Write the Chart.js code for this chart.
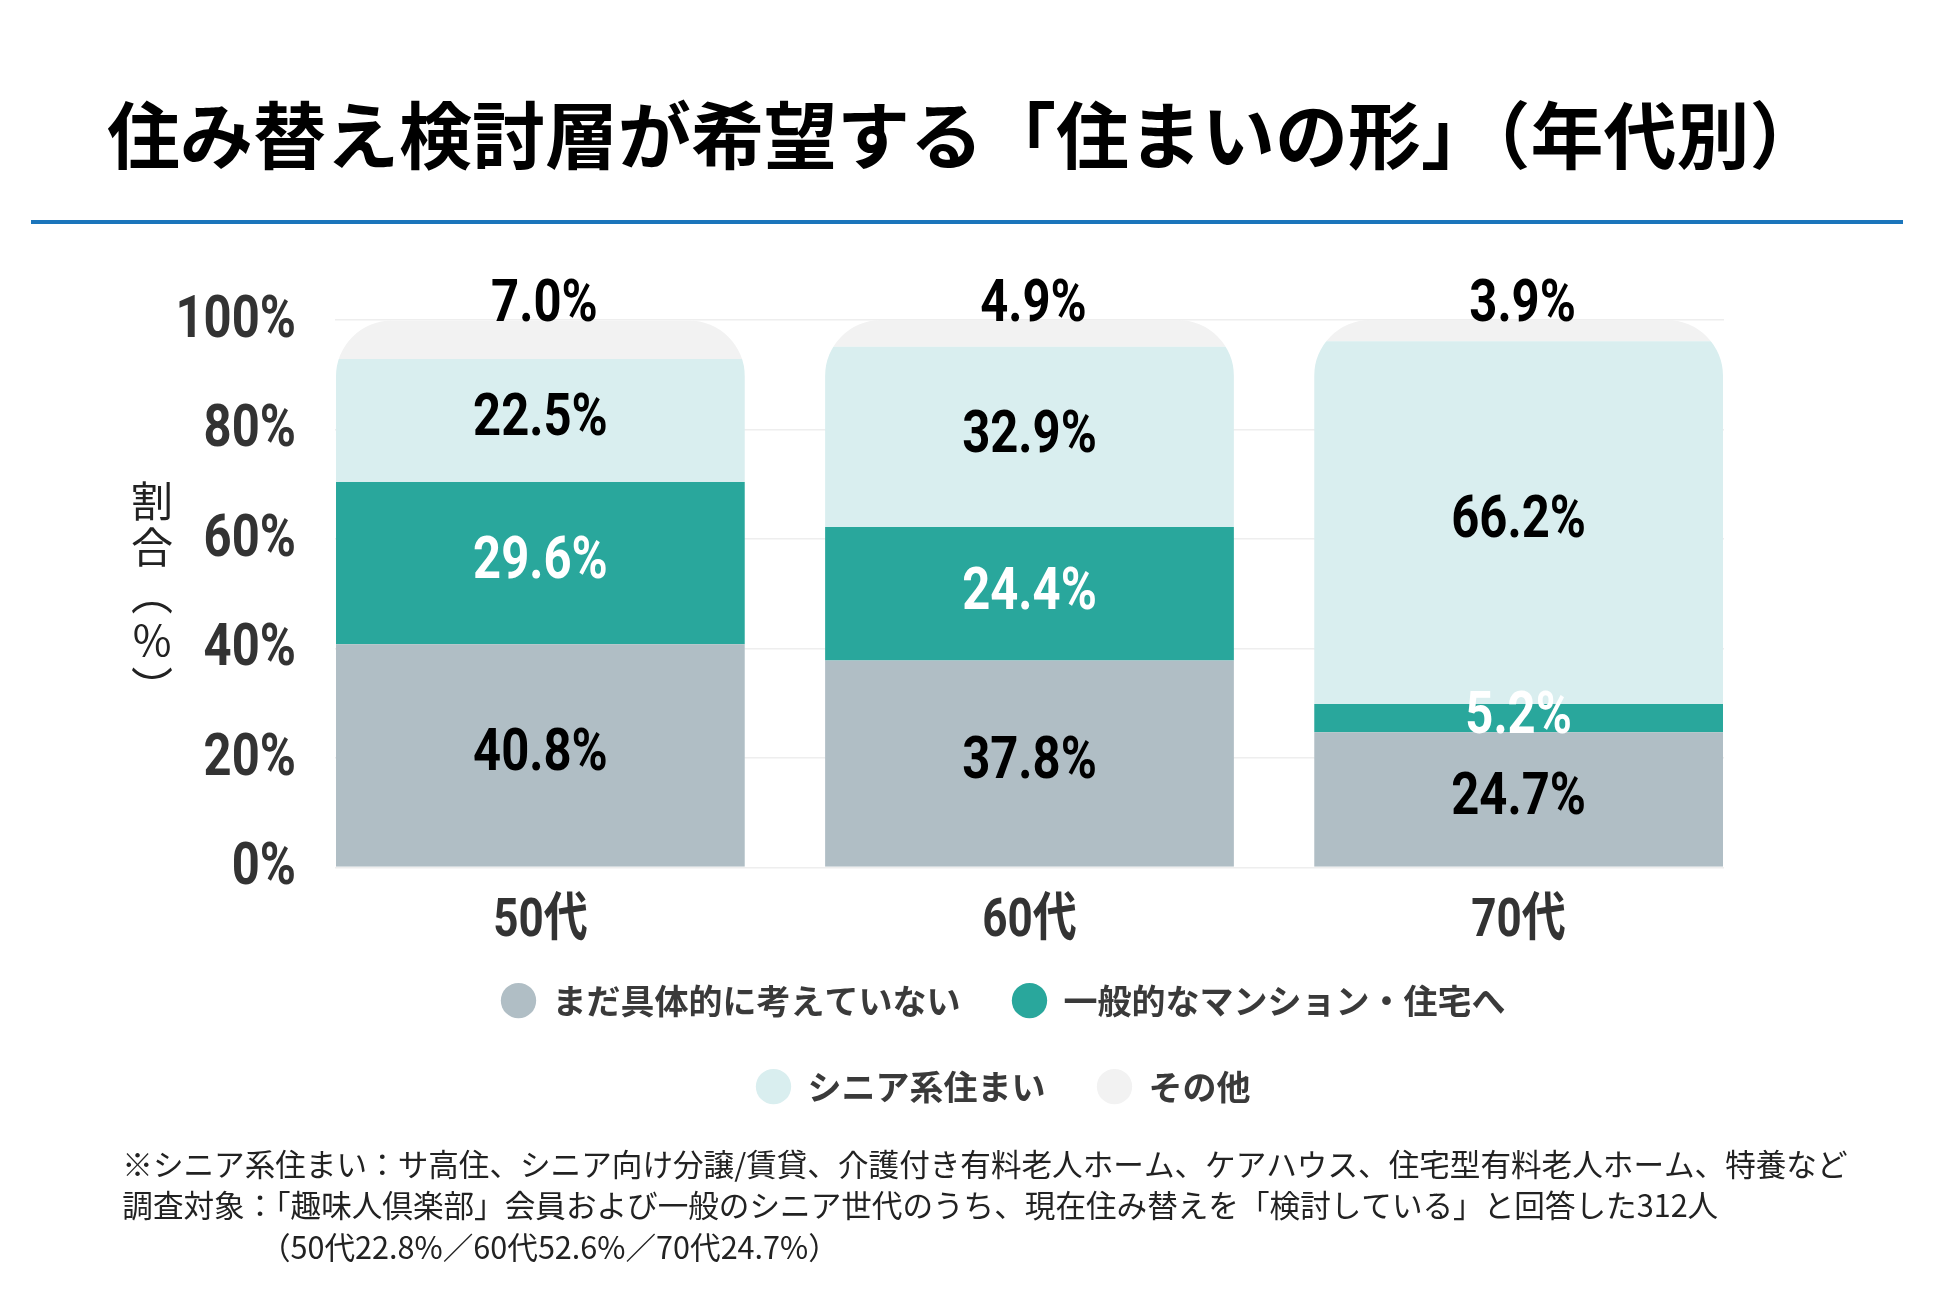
<!DOCTYPE html>
<html lang="ja">
<head>
<meta charset="utf-8">
<title>住み替え検討層が希望する「住まいの形」（年代別）</title>
<script src="https://cdn.jsdelivr.net/npm/chart.js@4/dist/chart.umd.min.js"></script>
<style>
  html, body { margin: 0; padding: 0; background: #fff; }
  canvas { display: block; }
</style>
</head>
<body>
<canvas id="chart" width="1950" height="1300"></canvas>
<script>
// data
const categories = ['50代', '60代', '70代'];
const seriesNames = ['まだ具体的に考えていない', '一般的なマンション・住宅へ', 'シニア系住まい', 'その他'];
const notYet = [40.8, 37.8, 24.7];
const general = [29.6, 24.4, 5.2];
const senior = [22.5, 32.9, 66.2];
const other = [7.0, 4.9, 3.9];
const yTickStep = 20;

const titleText = '住み替え検討層が希望する「住まいの形」（年代別）';
const axisTitleChars = ['割', '合', '︵', '%', '︶'];
const noteLines = [
  '\u2002※シニア系住まい：サ高住、シニア向け分譲/賃貸、介護付き有料老人ホーム、ケアハウス、住宅型有料老人ホーム、特養など',
  '\u2002調査対象：「趣味人倶楽部」会員および一般のシニア世代のうち、現在住み替えを「検討している」と回答した312人',
  '\u2002　　　　　（50代22.8%／60代52.6%／70代24.7%）',
];

const colors = ['#b0bec5', '#29a79c', '#d9eeef', '#f2f2f2'];
const jp = "'Noto Sans CJK JP', sans-serif";
const condensedFont = size => `bold ${size}px Roboto, 'Noto Sans CJK JP', sans-serif`;
const squeeze = 0.83;

const toPoints = arr => arr.map((v, i) => ({ x: i, y: v }));

// draw text narrowed horizontally (no condensed face is installed)
const drawCondensed = (ctx, text, x, y, align) => {
  ctx.save();
  ctx.translate(x, y);
  ctx.scale(squeeze, 1);
  ctx.textAlign = align;
  ctx.textBaseline = 'middle';
  ctx.fillText(text, 0, 0);
  ctx.restore();
};

// ----------------------------------------------
// plugins
// ----------------------------------------------
// clip the stacked bars to one rounded-top shape per category
const roundedStack = {
  id: 'roundedStack',
  beforeDatasetsDraw(chart) {
    const { ctx } = chart;
    const metas = chart.data.datasets.map((d, i) => chart.getDatasetMeta(i));
    ctx.save();
    ctx.beginPath();
    metas[0].data.forEach((bar, i) => {
      let top = Infinity;
      let bottom = -Infinity;
      metas.forEach(m => {
        const el = m.data[i];
        top = Math.min(top, el.y, el.base);
        bottom = Math.max(bottom, el.y, el.base);
      });
      const r = 56;
      ctx.roundRect(bar.x - bar.width / 2, top, bar.width, bottom - top, [r, r, 0, 0]);
    });
    ctx.clip();
  },
  afterDatasetsDraw(chart) {
    const { ctx } = chart;
    ctx.restore();

    // value labels
    ctx.save();
    ctx.font = condensedFont(59);
    const last = chart.data.datasets.length - 1;
    chart.data.datasets.forEach((ds, d) => {
      const meta = chart.getDatasetMeta(d);
      meta.data.forEach((el, i) => {
        const text = ds.data[i].y.toFixed(1) + '%';
        let x = el.x;
        let y = (el.y + el.base) / 2;
        if (d === last) {
          x = el.x + 4;
          y = Math.min(el.y, el.base) - 14;
        }
        ctx.fillStyle = d === 1 ? '#ffffff' : '#000000';
        drawCondensed(ctx, text, x, y, 'center');
      });
    });
    ctx.restore();
  },
};

// tick labels, blue rule under the title, vertical axis title
const decorations = {
  id: 'decorations',
  afterLayout(chart) {
    // legend sits a little left of the plot centre
    chart.legend.left -= 26;
    chart.legend.right -= 26;
  },
  afterDraw(chart) {
    const { ctx, chartArea } = chart;
    const xScale = chart.scales.x;
    const yScale = chart.scales.y;
    ctx.save();

    ctx.fillStyle = '#333333';
    ctx.font = condensedFont(59);
    yScale.ticks.forEach(t => {
      drawCondensed(ctx, t.value + '%', yScale.right - 39, yScale.getPixelForValue(t.value) + 2, 'right');
    });
    ctx.font = condensedFont(53);
    xScale.ticks.forEach(t => {
      drawCondensed(ctx, categories[t.value], xScale.getPixelForValue(t.value), xScale.top + 55, 'center');
    });

    ctx.strokeStyle = '#1b75bb';
    ctx.lineWidth = 4;
    ctx.beginPath();
    ctx.moveTo(31, 222);
    ctx.lineTo(1903, 222);
    ctx.stroke();

    ctx.fillStyle = '#222222';
    ctx.font = `400 42px ${jp}`;
    ctx.textAlign = 'center';
    ctx.textBaseline = 'middle';
    const step = 46.5;
    const mid = (chartArea.top + chartArea.bottom) / 2;
    const start = mid - step * (axisTitleChars.length - 1) / 2;
    axisTitleChars.forEach((c, i) => ctx.fillText(c, 152, start + i * step));
    ctx.restore();
  },
};

// ----------------------------------------------
// chart
// ----------------------------------------------
const buildDatasets = () => {
  const values = [notYet, general, senior, other];
  return values.map((v, i) => ({
    label: seriesNames[i],
    data: toPoints(v),
    backgroundColor: colors[i],
    borderColor: colors[i],
    borderWidth: 0,
    barPercentage: 0.836,
    categoryPercentage: 1,
  }));
};

const ctx = document.getElementById('chart').getContext('2d');

const myChart = new Chart(ctx, {
  type: 'bar',
  data: { datasets: buildDatasets() },
  plugins: [roundedStack, decorations],
  options: {
    responsive: false,
    animation: false,
    devicePixelRatio: 1,
    layout: { padding: { left: 107, right: 18, top: 0, bottom: 0 } },
    scales: {
      x: {
        type: 'linear',
        stacked: true,
        offset: false,
        min: -0.42,
        max: 2.42,
        afterBuildTicks: scale => {
          scale.ticks = categories.map((c, i) => ({ value: i }));
        },
        afterFit: scale => { scale.height = 64; },
        grid: { display: false },
        border: { display: false },
        ticks: { display: false },
      },
      y: {
        stacked: true,
        min: 0,
        max: 100,
        afterFit: scale => { scale.width = 228; },
        grid: { color: '#eeeeee', lineWidth: 1.5, drawTicks: false },
        border: { display: false },
        ticks: { display: false, stepSize: yTickStep },
      },
      // empty right-hand spacer so the title keeps its full width
      spacer: {
        type: 'linear',
        axis: 'y',
        position: 'right',
        afterFit: scale => { scale.width = 208; },
        grid: { display: false },
        border: { display: false },
        ticks: { display: false },
      },
    },
    plugins: {
      title: {
        display: true,
        text: titleText,
        align: 'start',
        color: '#000000',
        font: { family: jp, size: 73, weight: 'bold', lineHeight: 1.2 },
        padding: { top: 91.2, bottom: 141.2 },
      },
      subtitle: {
        display: true,
        position: 'bottom',
        text: noteLines,
        align: 'start',
        color: '#222222',
        font: { family: jp, size: 30.6, weight: 'normal', lineHeight: 1.35 },
        padding: { top: 30, bottom: 32.45 },
      },
      legend: {
        position: 'bottom',
        fullSize: false,
        labels: {
          usePointStyle: true,
          pointStyle: 'circle',
          boxWidth: 44,
          boxHeight: 25,
          padding: 52,
          color: '#3a3a3a',
          font: { family: jp, size: 34, weight: 'bold' },
        },
      },
      tooltip: { enabled: false },
    },
  },
});
</script>
</body>
</html>
